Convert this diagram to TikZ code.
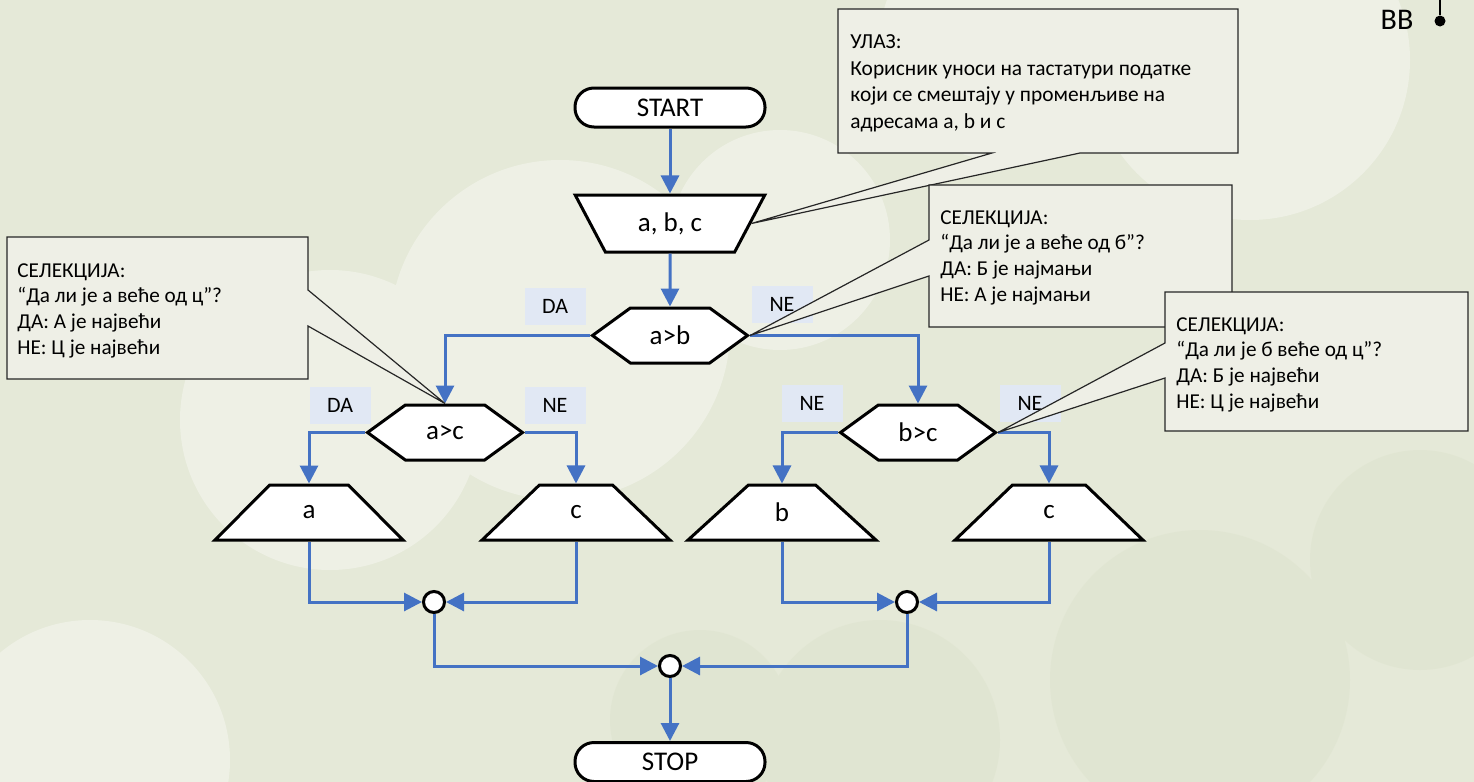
\documentclass[tikz,border=0pt]{standalone}
\usepackage{fontspec}
\setmainfont{Carlito}
\usetikzlibrary{arrows.meta,shapes.geometric,shapes.symbols,calc}
\definecolor{flowblue}{HTML}{4472C4}
\definecolor{tagblue}{HTML}{E1E8F4}
\definecolor{notefill}{HTML}{EEEFE6}
\definecolor{backgr}{HTML}{E5E9D8}
\definecolor{cloudgreen}{HTML}{DCE2CB}
\begin{document}
\begin{tikzpicture}[x=0.5pt,y=-0.5pt]
  \tikzstyle{terminal}=[draw=black, line width=1.5pt, fill=white, rounded corners=9.5pt, minimum width=95pt, minimum height=19.5pt, inner sep=0pt, font=\fontsize{13.5}{16}\selectfont]
  \tikzstyle{datain}=[trapezium, shape border rotate=180, trapezium left angle=56, trapezium right angle=56, trapezium stretches=true, draw=black, line width=1.5pt, fill=white, minimum width=95pt, minimum height=28.5pt, inner sep=0pt, font=\fontsize{13.5}{16}\selectfont]
  \tikzstyle{dataout}=[datain, shape border rotate=0, minimum width=94pt, minimum height=27.5pt]
  \tikzstyle{decision}=[signal, signal to=west and east, signal pointer angle=72, draw=black, line width=1.5pt, fill=white, minimum width=77.5pt, minimum height=27.5pt, inner sep=0pt, font=\fontsize{13.5}{16}\selectfont]
  \tikzstyle{merge}=[circle, draw=black, line width=1.5pt, fill=white, minimum size=10.5pt, inner sep=0pt]
  \tikzstyle{flow}=[draw=flowblue, line width=1.5pt, -{Triangle[width=9pt,length=9pt]}]
  \tikzstyle{tag}=[fill=tagblue, minimum width=30.5pt, minimum height=18.5pt, inner sep=0pt, font=\fontsize{11}{13}\selectfont]
  \tikzstyle{notebox}=[anchor=north west, inner sep=0pt, outer sep=0pt]
  \tikzstyle{noteline}=[draw=black!85, line width=0.6pt, fill=notefill, line join=miter]
  \tikzstyle{notetext}=[anchor=north west, inner sep=0pt, align=left, font=\fontsize{10.6}{12.9}\selectfont]

  % background
  \useasboundingbox (0,0) rectangle (1474,782);
  \begin{scope}
    \clip (0,0) rectangle (1474,782);
    \fill[backgr] (0,0) rectangle (1474,782);
    \fill[white, opacity=0.35] (330,420) circle (150) (560,330) circle (170) (780,240) circle (110) (90,760) circle (140) (1250,60) circle (160) (1000,40) circle (120);
    \fill[cloudgreen, opacity=0.45] (700,720) circle (90) (880,740) circle (120) (1200,680) circle (150) (1420,560) circle (110);
  \end{scope}

  % flow chart
  \node[terminal] (start) at (670,107.5) {START};
  \node[datain] (abc) at (670,223.5) {a, b, c};
  \node[decision] (ab) at (670,335.5) {a>b};
  \node[decision] (ac) at (445,432.5) {a>c};
  \node[decision] (bc) at (918,432.5) {b>c};
  \node[dataout] (outa) at (309,512.5) {a};
  \node[dataout] (outc) at (576,512.5) {c};
  \node[dataout] (outb) at (782,512.5) {b};
  \node[dataout] (outcc) at (1049,512.5) {c};
  \node[merge] (joinl) at (434,602) {};
  \node[merge] (joinr) at (907,602) {};
  \node[merge] (joinm) at (670,666) {};
  \node[terminal] (stop) at (670,762) {STOP};

  \draw[flow] (start) -- (abc);
  \draw[flow] (abc) -- (ab);
  \draw[flow] (ab.west) -| (ac.north);
  \draw[flow] (ab.east) -| (bc.north);
  \draw[flow] (ac.west) -| (outa.north);
  \draw[flow] (ac.east) -| (outc.north);
  \draw[flow] (bc.west) -| (outb.north);
  \draw[flow] (bc.east) -| (outcc.north);
  \draw[flow] (outa.south) |- (joinl.west);
  \draw[flow] (outc.south) |- (joinl.east);
  \draw[flow] (outb.south) |- (joinr.west);
  \draw[flow] (outcc.south) |- (joinr.east);
  \draw[flow] (joinl.south) |- (joinm.west);
  \draw[flow] (joinr.south) |- (joinm.east);
  \draw[flow] (joinm) -- (stop);

  \node[tag] (da1) at (555,306) {DA};
  \node[tag] (ne1) at (782,304) {NE};
  \node[tag] (da2) at (340,405) {DA};
  \node[tag] (ne2) at (555,405) {NE};
  \node[tag] (ne3) at (812,403) {NE};
  \node[tag] (ne4) at (1030,403) {NE};

  % callouts
  \node[notebox, minimum width=200pt, minimum height=72pt] (innote) at (838,9) {};
  \draw[noteline] ($(innote.south west)+(154,0)$) -- (abc.east) -- ($(innote.south west)+(242,0)$)
    -- (innote.south east) -- (innote.north east) -- (innote.north west) -- (innote.south west) -- cycle;
  \node[notetext, font=\fontsize{10.7}{13.4}\selectfont] at ($(innote.north west)+(12,25)$) {УЛАЗ:\\Корисник уноси на тастатури податке\\који се смештају у променљиве на\\адресама a, b и c};

  \node[notebox, minimum width=151.5pt, minimum height=71pt] (abnote) at (929,185) {};
  \draw[noteline] ($(abnote.north west)+(0,55)$) -- (ab.east) -- ($(abnote.north west)+(0,91)$)
    -- (abnote.south west) -- (abnote.south east) -- (abnote.north east) -- (abnote.north west) -- cycle;
  \node[notetext] at ($(abnote.north west)+(11,25)$) {СЕЛЕКЦИЈА:\\“Да ли је а веће од б”?\\ДА: Б је најмањи\\НЕ: А је најмањи};

  \node[notebox, minimum width=150.5pt, minimum height=71pt] (acnote) at (7,237) {};
  \draw[noteline] ($(acnote.north east)+(0,53)$) -- (ac.north) -- ($(acnote.north east)+(0,89)$)
    -- (acnote.south east) -- (acnote.south west) -- (acnote.north west) -- (acnote.north east) -- cycle;
  \node[notetext] at ($(acnote.north west)+(10,26)$) {СЕЛЕКЦИЈА:\\“Да ли је а веће од ц”?\\ДА: А је највећи\\НЕ: Ц је највећи};

  \node[notebox, minimum width=151.5pt, minimum height=69.5pt] (bcnote) at (1165,292) {};
  \draw[noteline] ($(bcnote.north west)+(0,51)$) -- (bc.east) -- ($(bcnote.north west)+(0,86)$)
    -- (bcnote.south west) -- (bcnote.south east) -- (bcnote.north east) -- (bcnote.north west) -- cycle;
  \node[notetext] at ($(bcnote.north west)+(11,25)$) {СЕЛЕКЦИЈА:\\“Да ли је б веће од ц”?\\ДА: Б је највећи\\НЕ: Ц је највећи};

  % corner mark
  \node[inner sep=0pt, font=\fontsize{15}{18}\selectfont] (bbmark) at (1397,20) {BB};
  \coordinate (pintop) at (1440,0);
  \node[circle, fill=black, inner sep=0pt, minimum size=5.5pt] (pin) at (1440,21) {};
  \draw[line width=0.8pt] (pintop) -- (pin);
\end{tikzpicture}
\end{document}
